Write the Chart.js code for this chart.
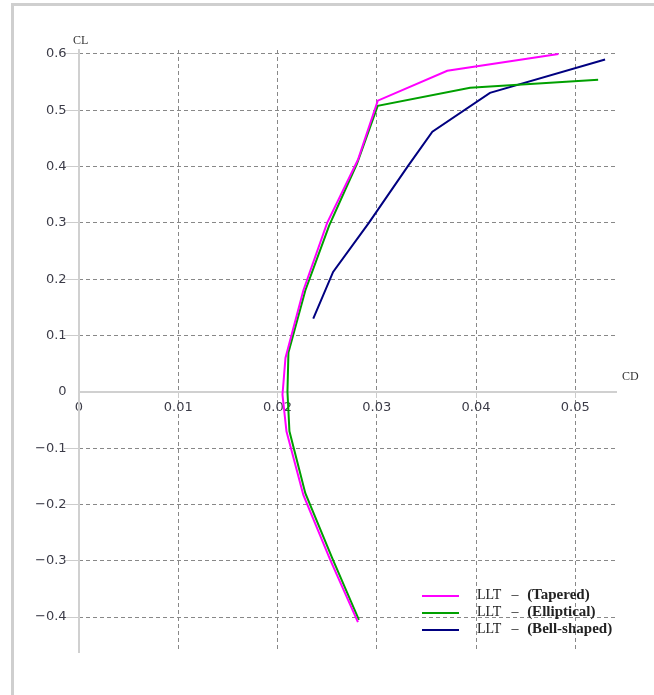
<!DOCTYPE html>
<html lang="en">
<head>
<meta charset="UTF-8">
<title>CL vs CD</title>
<script src="https://cdn.jsdelivr.net/npm/chart.js"></script>
<style>
  body { margin: 0; background: #fff; }
  #frame { position: absolute; left: 11px; top: 3px; width: 700px; height: 720px; border: 3px solid #cfcfcf; }
  #wrap { position: absolute; left: 0; top: 0; width: 654px; height: 695px; }
  #legend { position: absolute; left: 422px; top: 586px; font-family: "Liberation Serif", serif; font-size: 14px; color: #222; }
  #legend div { height: 17px; line-height: 17px; white-space: pre; }
  #legend span.sw { display: inline-block; width: 37px; height: 2px; vertical-align: middle; margin-right: 18px; }
  #legend b { margin-left: 5px; font-size: 15px; }
</style>
</head>
<body>
<div id="frame"></div>
<div id="wrap"><canvas id="myChart" width="654" height="695"></canvas></div>
<div id="legend"></div>
<script>
// CD / CL polars
const taperedCD = [0.0281, 0.0253, 0.0226, 0.0209, 0.0205, 0.0208, 0.0226, 0.0250, 0.0281, 0.0301, 0.0371, 0.0483];
const taperedCL = [-0.409, -0.298, -0.183, -0.070, -0.005, 0.060, 0.180, 0.300, 0.412, 0.517, 0.570, 0.600];

const ellipticalCD = [0.0282, 0.0255, 0.0228, 0.0212, 0.0210, 0.0211, 0.0228, 0.0252, 0.0280, 0.0301, 0.0394, 0.0523];
const ellipticalCL = [-0.405, -0.295, -0.180, -0.070, 0.000, 0.070, 0.180, 0.295, 0.405, 0.508, 0.540, 0.554];

const bellCD = [0.0236, 0.0256, 0.0292, 0.0331, 0.0356, 0.0414, 0.0530];
const bellCL = [0.130, 0.213, 0.300, 0.400, 0.462, 0.531, 0.590];

const seriesNames = ['(Tapered)', '(Elliptical)', '(Bell-shaped)'];
const seriesColors = ['#ff00ff', '#00a000', '#000080'];

const cdTicks = [0, 0.01, 0.02, 0.03, 0.04, 0.05];
const clTicks = [-0.4, -0.3, -0.2, -0.1, 0, 0.1, 0.2, 0.3, 0.4, 0.5, 0.6];

function toPoints(xs, ys) {
    return xs.map((x, i) => ({ x: x, y: ys[i] }));
}

const axisTitles = {
    id: 'axisTitles',
    afterDraw(chart) {
        const ctx = chart.ctx;
        const xs = chart.scales.x, ys = chart.scales.y;
        ctx.save();
        ctx.font = '12px "Liberation Serif", serif';
        ctx.fillStyle = '#333';
        ctx.textBaseline = 'middle';
        ctx.textAlign = 'left';
        ctx.fillText('CL', xs.getPixelForValue(0) - 6, chart.chartArea.top - 9);
        ctx.fillText('CD', chart.chartArea.right + 5, ys.getPixelForValue(0) - 15);
        ctx.restore();
    }
};

const tickFont = { family: '"DejaVu Sans", sans-serif', size: 13 };
const fmt = v => String(+v.toFixed(2)).replace('-', '\u2212');

const datasets = [
    toPoints(taperedCD, taperedCL),
    toPoints(ellipticalCD, ellipticalCL),
    toPoints(bellCD, bellCL)
].map((pts, i) => ({
    label: 'LLT \u2013 ' + seriesNames[i],
    data: pts,
    showLine: true,
    borderColor: seriesColors[i],
    backgroundColor: seriesColors[i],
    borderWidth: 2,
    pointRadius: 0,
    tension: 0
}));

const ctx = document.getElementById('myChart').getContext('2d');
new Chart(ctx, {
    type: 'scatter',
    data: { datasets: datasets },
    options: {
        responsive: false,
        animation: false,
        layout: { padding: { left: 79, top: 50, right: 37, bottom: 43 } },
        plugins: { legend: { display: false }, tooltip: { enabled: false } },
        scales: {
            x: {
                type: 'linear',
                position: { y: 0 },
                min: 0,
                max: 0.0542,
                afterBuildTicks: s => { s.ticks = cdTicks.map(v => ({ value: v })); },
                ticks: { font: tickFont, color: '#3c3c48', padding: 3, maxRotation: 0, callback: fmt },
                grid: {
                    color: '#888',
                    lineWidth: c => (c.tick && c.tick.value === 0 ? 0 : 1),
                    tickLength: 5,
                    tickColor: '#ccc'
                },
                border: { color: '#d0d0d0', width: 2, dash: [4, 3] }
            },
            y: {
                type: 'linear',
                position: { x: 0 },
                min: -0.462,
                max: 0.607,
                afterBuildTicks: s => { s.ticks = clTicks.map(v => ({ value: v })); },
                // trailing spaces keep the labels clear of the axis line
                ticks: { font: tickFont, color: '#3c3c48', callback: v => fmt(v) + '   ' },
                grid: {
                    color: '#888',
                    lineWidth: c => (c.tick && c.tick.value === 0 ? 0 : 1),
                    tickLength: 14,
                    tickColor: '#ccc'
                },
                border: { color: '#d0d0d0', width: 2, dash: [4, 3] }
            }
        }
    },
    plugins: [axisTitles]
});

const legend = document.getElementById('legend');
seriesNames.forEach((name, i) => {
    const row = document.createElement('div');
    const sw = document.createElement('span');
    sw.className = 'sw';
    sw.style.background = seriesColors[i];
    row.appendChild(sw);
    row.appendChild(document.createTextNode('LLT   \u2013 '));
    const b = document.createElement('b');
    b.textContent = name;
    row.appendChild(b);
    legend.appendChild(row);
});
</script>
</body>
</html>
